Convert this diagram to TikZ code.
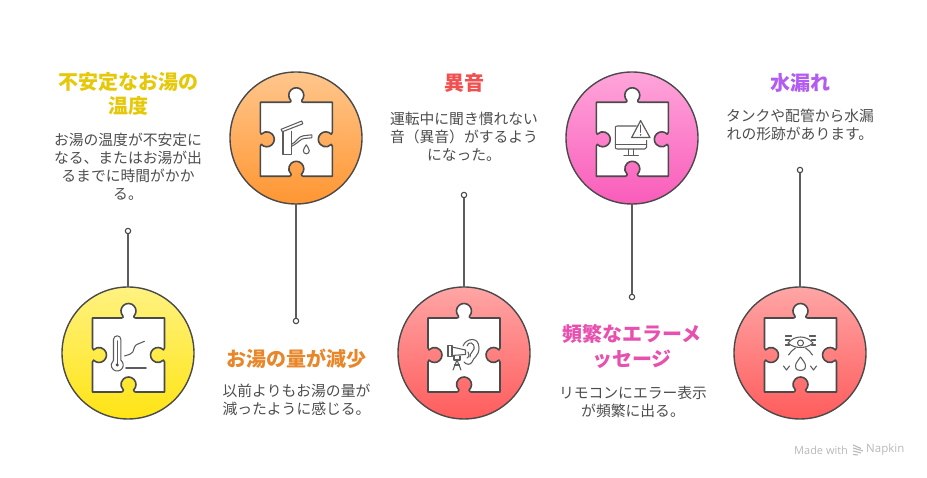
\documentclass[tikz,border=0pt]{standalone}
\usepackage{fontspec}
\setmainfont{Noto Sans CJK JP}
\newfontfamily\latinfont{Open Sans}
\definecolor{ink}{HTML}{4A4A4A}
\definecolor{bodyink}{HTML}{4D4D4D}
\tikzset{
  x=1pt,y=1pt,
  disc/.style={circle,draw=ink,line width=1.4pt,minimum size=132pt,inner sep=0pt,outer sep=0pt},
  link/.style={draw=ink!90,line width=1.5pt},
  enddot/.style={circle,draw=ink,fill=white,line width=1.1pt,minimum size=5.4pt,inner sep=0pt,outer sep=0pt},
  headtext/.style={align=center,inner sep=0pt,font=\fontsize{20}{24.5}\selectfont\bfseries},
  bodytext/.style={align=center,inner sep=0pt,text=bodyink,font=\fontsize{14.8}{18}\selectfont},
  glyph/.style={draw=ink!90,line width=1.05pt,line cap=round,line join=round},
  piece/.pic={
    \draw[draw=ink,fill=white,line width=1.6pt,line join=round]
      (-36,37) -- (-7,37) .. controls (-5.5,37) and (-5,38) .. (-5.6,39)
      arc[start angle=222,end angle=-42,radius=7.5]
      .. controls (5,38) and (5.5,37) .. (7,37) -- (36,37) -- (36,7)
      .. controls (36,5.8) and (35.8,5.3) .. (35,5.1)
      arc[start angle=43,end angle=317,radius=7.5]
      .. controls (35.8,-5.3) and (36,-5.8) .. (36,-7) -- (36,-37) -- (7,-37)
      .. controls (5.8,-37) and (5.3,-36) .. (5.1,-35)
      arc[start angle=-47,end angle=227,radius=7.5]
      .. controls (-5.3,-36) and (-5.8,-37) .. (-7,-37) -- (-36,-37) -- (-36,-7)
      .. controls (-36,-5.8) and (-35.8,-5.3) .. (-35,-5.1)
      arc[start angle=223,end angle=497,radius=7.5]
      .. controls (-35.8,5.3) and (-36,5.8) .. (-36,7) -- cycle;
  },
}
\begin{document}
\begin{tikzpicture}
\useasboundingbox (0,0) rectangle (927,478);
% discs
\node[disc,top color={rgb,255:red,255;green,242;blue,128},bottom color={rgb,255:red,255;green,228;blue,20}] (c1) at (128,125) {};
\node[disc,top color={rgb,255:red,255;green,198;blue,140},bottom color={rgb,255:red,255;green,150;blue,50}] (c2) at (296,340) {};
\node[disc,top color={rgb,255:red,255;green,165;blue,165},bottom color={rgb,255:red,255;green,92;blue,92}] (c3) at (464,125) {};
\node[disc,top color={rgb,255:red,255;green,165;blue,218},bottom color={rgb,255:red,249;green,92;blue,186}] (c4) at (632,340) {};
\node[disc,top color={rgb,255:red,255;green,165;blue,165},bottom color={rgb,255:red,255;green,92;blue,92}] (c5) at (800,125) {};
% connector ends
\node[enddot] (d1) at (128,247) {};
\node[enddot] (d2) at (296,157) {};
\node[enddot] (d3) at (464,283) {};
\node[enddot] (d4) at (632,181) {};
\node[enddot] (d5) at (800,308) {};
\draw[link] (c1) -- (d1);
\draw[link] (c2) -- (d2);
\draw[link] (c3) -- (d3);
\draw[link] (c4) -- (d4);
\draw[link] (c5) -- (d5);
% pieces
\pic at (128.5,123) {piece};
\pic at (296.3,338.7) {piece};
\pic at (464,123) {piece};
\pic at (632.3,338.7) {piece};
\pic at (800.5,123) {piece};
% thermometer
\begin{scope}[shift={(128.5,123)}]
  \draw[glyph] (-15,-5.3) -- (-15,15.5) arc[start angle=180,end angle=0,radius=3.7] -- (-7.6,-5.3)
     arc[start angle=52,end angle=-232,radius=6] ;
  \draw[glyph] (-11.3,14) -- (-11.3,-10);
  \fill[ink] (-11.3,-10) circle (1.7);
  \draw[glyph] (-4,-1) .. controls (0,0.5) and (3,0.5) .. (4.3,3) .. controls (5.5,6) and (6,9.5) .. (8.3,10.5) -- (16,13.7);
  \draw[glyph] (-2.7,-13) -- (17.7,-13);
\end{scope}
% faucet
\begin{scope}[shift={(296.3,338.7)}]
  \draw[glyph] (-4.7,8) -- (-4.7,-15.5) -- (-13.3,-15.5) -- (-13.3,8);
  \draw[glyph] (-15.2,10) -- (5.5,18.3) -- (6.5,15.5) -- (-14,7.5) -- cycle;
  \draw[glyph] (-4.7,-5) .. controls (0,-3) and (2,3) .. (7,3.5) -- (15.5,4.5) -- (15.5,1.5) -- (8,0.8)
     .. controls (4,0.5) and (3,-3) .. (-4.7,-7);
  \draw[glyph] (10,-5.5) .. controls (11,-8) and (13,-9) .. (13,-11.5) arc[start angle=0,end angle=-180,radius=3] .. controls (7,-9) and (9,-8) .. (10,-5.5);
\end{scope}
% telescope and ear
\begin{scope}[shift={(464,123)}]
  \draw[glyph] (-16,9.5) rectangle (-12,-1.5);
  \draw[glyph] (-12,8) -- (1.5,5) -- (1.5,0.5) -- (-12,-0.5);
  \draw[glyph] (-10,-1) -- (-10,-5) -- (-4,-5) -- (-4,-1);
  \draw[glyph] (-7,-5) -- (-11,-15);
  \draw[glyph] (-7,-5) -- (-3,-15);
  \draw[glyph] (-9.5,-10) -- (-4.5,-10);
  \draw[glyph] (-1,9) .. controls (2,17) and (15,19) .. (15,7) .. controls (15,-1) and (9,-3) .. (8,-7) .. controls (7,-10) and (2,-10) .. (0,-7);
  \draw[glyph] (3,9) .. controls (4,14) and (11,13) .. (10,6) .. controls (9,2) and (6,3) .. (6,-2);
  \draw[glyph] (4,3) .. controls (5,1) and (6,-1) .. (3,-3);
\end{scope}
% monitor and warning
\begin{scope}[shift={(632.3,338.7)}]
  \draw[glyph] (4,13.3) -- (-15,13.3) .. controls (-16.5,13.3) and (-17,12.5) .. (-17,11.5) -- (-17,-8) .. controls (-17,-9) and (-16.5,-9.7) .. (-15,-9.7) -- (12.5,-9.7) .. controls (13.5,-9.7) and (14.3,-9) .. (14.3,-8) -- (14.3,-1);
  \draw[glyph] (-17,-5.5) -- (14.3,-5.5);
  \draw[glyph] (-4,-10) -- (-4,-15.8);
  \draw[glyph] (1,-10) -- (1,-15.8);
  \draw[glyph] (-8.5,-16.3) -- (6,-16.3);
  \draw[glyph,line width=1.2pt] (8.3,18.7) -- (17.7,1.7) -- (-0.7,1.7) -- cycle;
  \draw[glyph,line width=1.4pt] (8.3,14) -- (8.3,7);
  \fill[ink] (8.3,4.4) circle (0.9);
\end{scope}
% eye and drops
\begin{scope}[shift={(800.5,123)}]
  \draw[glyph] (-12.5,12) .. controls (-6,20) and (6,20) .. (12.5,12) .. controls (6,6) and (-6,6) .. (-12.5,12) -- cycle;
  \draw[glyph] (0,12) circle (3);
  \draw[glyph] (-15,19) -- (-9,19);
  \draw[glyph] (9,19) -- (15,19);
  \draw[glyph] (-15,15) -- (-11,15);
  \draw[glyph] (11,15) -- (15,15);
  \draw[glyph] (-15,10) -- (-11,10) ;
  \draw[glyph] (11,10) -- (15,10) ;
  \draw[glyph] (-5,7) .. controls (-8,5) and (-10,3) .. (-12,0);
  \draw[glyph] (5,7) .. controls (8,5) and (10,3) .. (12,0);
  \draw[glyph] (0,-2) .. controls (2,-5) and (5,-8) .. (5,-11) .. controls (5,-15) and (2,-15.5) .. (0,-15.5) .. controls (-2,-15.5) and (-5,-15) .. (-5,-11) .. controls (-5,-8) and (-2,-5) .. (0,-2);
  \draw[glyph] (-17,-11) -- (-14,-15) -- (-11,-11);
  \draw[glyph] (10,-11) -- (13,-15) -- (16,-11);
\end{scope}
% titles
\node[headtext,text={rgb,255:red,230;green,200;blue,10}] (t1) at (128,384) {不安定なお湯の\\温度};
\node[headtext,text={rgb,255:red,232;green,134;blue,42}] (t2) at (296.5,119) {お湯の量が減少};
\node[headtext,text={rgb,255:red,240;green,80;blue,80}] (t3) at (464,395) {異音};
\node[headtext,text={rgb,255:red,232;green,80;blue,176}] (t4) at (632,131.5) {頻繁なエラーメ\\ッセージ};
\node[headtext,text={rgb,255:red,178;green,92;blue,240}] (t5) at (800,395) {水漏れ};
% bodies
\node[bodytext] (b1) at (128,311.5) {お湯の温度が不安定に\\なる、またはお湯が出\\るまでに時間がかか\\る。};
\node[bodytext] (b2) at (296.5,78) {以前よりもお湯の量が\\減ったように感じる。};
\node[bodytext] (b3) at (464,341.5) {運転中に聞き慣れない\\音（異音）がするよう\\になった。};
\node[bodytext] (b4) at (633,76) {リモコンにエラー表示\\が頻繁に出る。};
\node[bodytext] (b5) at (800,353.5) {タンクや配管から水漏\\れの形跡があります。};
% watermark
\node[anchor=west,inner sep=0pt,text=black!28,font=\latinfont\fontsize{11}{12}\selectfont] (m1) at (794,28) {Made with};
\node[anchor=west,inner sep=0pt,text=black!28,font=\latinfont\fontsize{11.5}{12}\selectfont] (m2) at (866,28) {Napkin};
\begin{scope}[shift={(853,28)},black!28,line width=1.1pt]
  \draw (0,5) -- (8,1.5);
  \draw (0,2) -- (10,-1);
  \draw (0,-1) -- (8,-3);
  \draw (0,-4.5) -- (5,-5);
\end{scope}
\end{tikzpicture}
\end{document}
